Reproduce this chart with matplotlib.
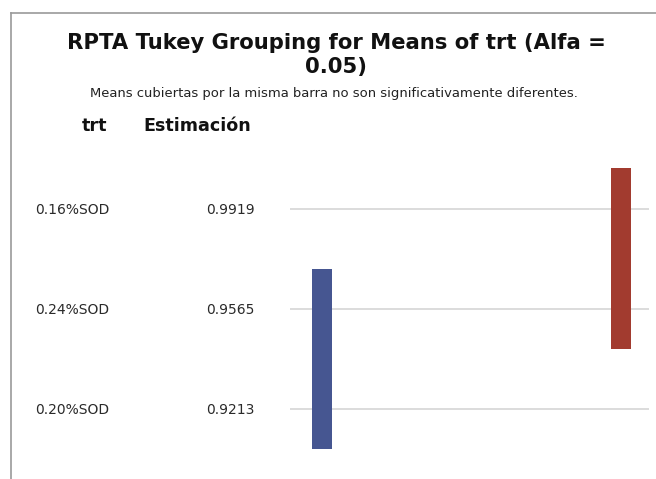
import matplotlib
matplotlib.use("Agg")
import matplotlib.pyplot as plt
from matplotlib.lines import Line2D
import matplotlib.transforms as mtransforms

plt.rcParams['font.family'] = ['DejaVu Sans']

# Data
treatments = ['0.16%SOD', '0.24%SOD', '0.20%SOD']
estimates = ['0.9919', '0.9565', '0.9213']
# each grouping bar: (column, first row, last row)
group_columns = [1, 2]
group_start = [1, 0]
group_end = [2, 1]
group_colors = ['#465691', '#A23B2F']

W, H = 656, 479
fig = plt.figure(figsize=(W / 100, H / 100), dpi=100)
renderer = fig.canvas.get_renderer()

def fx(px):
    return px / W

def fy(py):
    return 1 - py / H

def fit(t, target_w):
    bb = t.get_window_extent(renderer)
    t.set_fontsize(t.get_fontsize() * target_w / bb.width)
    return t

# frame
fig.add_artist(Line2D([fx(10.5), 1.0], [fy(12.5), fy(12.5)], color='#9a9a9a', lw=1.2))
fig.add_artist(Line2D([fx(10.5), fx(10.5)], [fy(12.5), 0.0], color='#9a9a9a', lw=1.2))

# titles
t1 = fig.text(fx(336), fy(49), 'RPTA Tukey Grouping for Means of trt (Alfa =',
              ha='center', va='baseline', fontsize=14, fontweight='bold', color='#111111')
fit(t1, 540)
t2 = fig.text(fx(336), fy(73), '0.05)', ha='center', va='baseline',
              fontsize=t1.get_fontsize(), fontweight='bold', color='#111111')
t3 = fig.text(fx(333.5), fy(96.5), 'Means cubiertas por la misma barra no son significativamente diferentes.',
              ha='center', va='baseline', fontsize=8, color='#222222')
fit(t3, 489)
h1 = fig.text(fx(82), fy(131), 'trt', ha='left', va='baseline', fontsize=11, fontweight='bold', color='#111111')
h2 = fig.text(fx(143), fy(131), 'Estimación', ha='left', va='baseline', fontsize=11, fontweight='bold', color='#111111')
fit(h2, 107)
h1.set_fontsize(h2.get_fontsize())

# axes for grouping bars: pixel x 290..649, y 150..479
x0, x1 = 290, 649
y0, y1 = 150, 479
ax = fig.add_axes([fx(x0), fy(y1), (x1 - x0) / W, (y1 - y0) / H])
row_step = 100.25
ax.set_ylim((y1 - 208.5) / row_step, (y0 - 208.5) / row_step)
col_step = 299.0
ax.set_xlim(1 + (x0 - 322.0) / col_step, 1 + (x1 - 322.0) / col_step)
ax.axis('off')

n = len(treatments)
for r in range(n):
    ax.axhline(r, color='#d9d9d9', lw=1.3, zorder=1)

bar_w = 20 / col_step
ext = 0.4
for c, s, e, col in zip(group_columns, group_start, group_end, group_colors):
    ax.bar(c, (e - s) + 2 * ext, bottom=s - ext, width=bar_w, color=col, zorder=3)

trans = mtransforms.blended_transform_factory(fig.transFigure, ax.transData)
trans = mtransforms.offset_copy(trans, fig=fig, y=-5.5, units='dots')
for r, (t, est) in enumerate(zip(treatments, estimates)):
    a = ax.text(fx(35), r, t, transform=trans, ha='left', va='baseline', fontsize=9, color='#2a2a2a')
    fit(a, 75)
    ax.text(fx(206), r, est, transform=trans, ha='left', va='baseline',
            fontsize=a.get_fontsize(), color='#2a2a2a')

fig.savefig('out.png', dpi=100)
